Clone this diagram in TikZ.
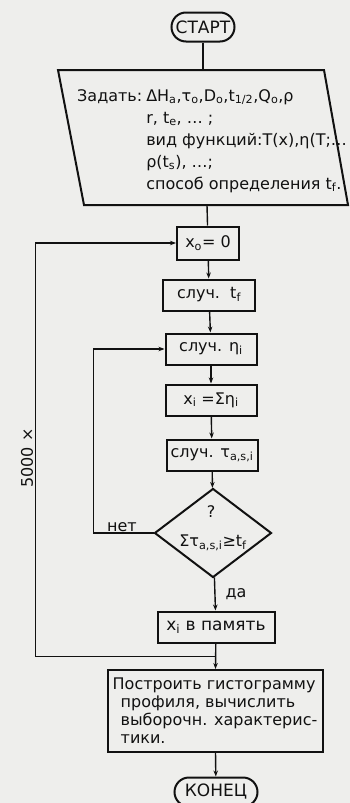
\documentclass[tikz,border=0pt]{standalone}
\usepackage{fontspec}
\setmainfont{DejaVu Sans}
\usepackage{tikz}
\usetikzlibrary{shapes.geometric,arrows.meta,calc}
\definecolor{ink}{HTML}{111111}
\definecolor{paper}{HTML}{EEEEEC}
\newcommand{\lo}[1]{\textsubscript{#1}}

\begin{document}
\begin{tikzpicture}[x=1pt,y=-1pt,font=\fontsize{16}{19}\selectfont,text=ink,
     box/.style={draw=ink,line width=2pt,minimum height=31pt,inner sep=1pt},
     term/.style={draw=ink,line width=2pt,rounded corners=14.5pt,minimum height=29pt,inner sep=1pt,font=\fontsize{17}{19}\selectfont},
     decide/.style={diamond,draw=ink,line width=2pt,minimum width=117pt,minimum height=89pt,inner sep=0pt},
     con/.style={draw=ink,line width=1.4pt},
     arr/.style={con,-{Stealth[length=6pt,width=4.5pt]}}]
    \fill[paper] (0,0) rectangle (350,803); \useasboundingbox (0,0) rectangle (350,803);
    \node[term,minimum width=63pt](start) at (203,27){СТАРТ};
    % input block
    \draw[ink,line width=2pt] (58,70) -- (324,70) -- (348,205) -- (84,205) -- cycle;
    \coordinate (intop) at (203,70); \coordinate (inbot) at (207,205);
    \node[anchor=base west,inner sep=0pt](input) at (77,101){\renewcommand{\arraystretch}{1.16}%
      \begin{tabular}[t]{@{}l@{\hspace{4pt}}l@{}}
        Задать: & ΔH\lo{a},τ\lo{o},D\lo{o},t\lo{1/2},Q\lo{o},ρ\\
        & r, t\lo{e}, … ;\\
        & вид функций:T(x),η(T;…\\
        & ρ(t\lo{s}), …;\\
        & способ определения t\lo{f}.
      \end{tabular}};
    \node[box,minimum width=62pt,minimum height=33pt](xzero) at (208,243){x\lo{o}= 0};
    \node[box,minimum width=92pt](tf) at (209,295){случ.\ \ t\lo{f}};
    \node[box,minimum width=91pt](eta) at (211,349){случ. η\lo{i}};
    \node[box,minimum width=91pt](xsum) at (211,400){x\lo{i} =Ση\lo{i}};
    \node[box,minimum width=91pt](tau) at (212,455){случ. τ\lo{a,s,i}};
    \node[decide](check) at (213,533){};
    \node(quest) at (211,512){?}; \node(cond) at (213,543){Στ\lo{a,s,i}≥t\lo{f}};
    \node[box,minimum width=117pt,font=\fontsize{17}{19}\selectfont](xmem) at (216,627){x\lo{i} в память};
    \node[box,minimum width=215pt,minimum height=82pt,align=left,font=\fontsize{16}{18}\selectfont](build) at (215,711)
      {Построить гистограмму\\\hspace*{8pt}профиля, вычислить\\\hspace*{8pt}выборочн. характерис-\\\hspace*{8pt}тики.};
    \node[term,minimum width=83pt](stop) at (216,792){КОНЕЦ};
    \node(no) at (122,527){нет}; \node(yes) at (236,594){да};
    \node[rotate=90](runs) at (27,458){5000 ×};
    % connectors
    \draw[con] (start) -- (intop); \draw[con] (inbot) -- (xzero);
    \draw[arr] (xzero) -- (tf); \draw[arr] (tf) -- (eta); \draw[arr] (eta) -- (xsum);
    \draw[arr] (xsum) -- (tau); \draw[arr] (tau) -- (check); \draw[arr] (check) -- (xmem);
    \draw[arr] (check.west) -- ++(-60,0) |- (eta.west);
    \draw[arr] (xmem) -- (build); \draw[arr] (build) -- (stop);
    \coordinate (jn) at ($(xmem.south)!.5!(build.north)$);
    \draw[arr] (jn) -- ++(-180,0) |- (xzero.west);
  \end{tikzpicture}
\end{document}
